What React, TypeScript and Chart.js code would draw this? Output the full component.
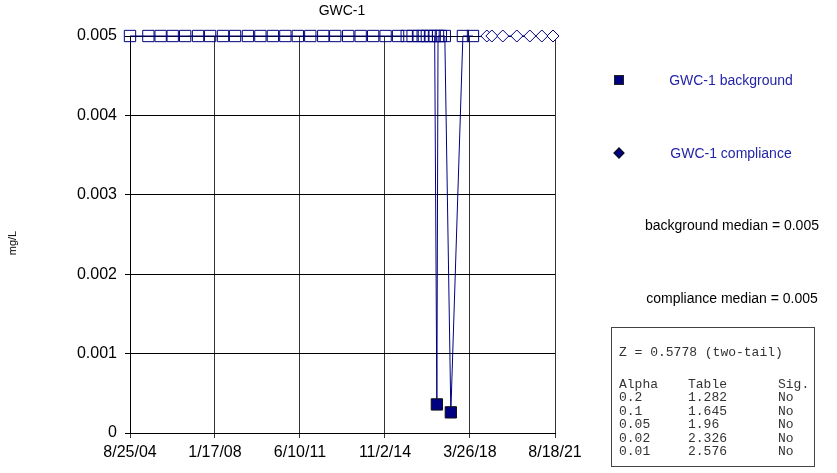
import React, { useEffect, useRef } from "react";
import { Chart, registerables } from "chart.js";

Chart.register(...registerables);

// ---------- data ----------
const chartTitle = "GWC-1";
const yAxisLabel = "mg/L";

const backgroundDates = [
  "2004-08-25",
  "2005-05-20", "2005-11-15", "2006-05-10", "2006-11-08", "2007-05-15", "2007-11-07",
  "2008-05-13", "2008-11-05", "2009-05-12", "2009-11-10", "2010-05-11", "2010-11-09",
  "2011-05-10", "2011-11-08", "2012-05-15", "2012-11-06", "2013-05-14", "2013-11-12",
  "2014-05-13", "2014-11-11", "2015-05-12", "2015-09-15",
  "2015-12-10", "2016-03-08", "2016-05-05", "2016-07-05", "2016-08-30", "2016-10-27",
  "2016-11-28", "2016-12-15", "2017-01-26", "2017-03-24", "2017-06-20",
  "2017-12-13", "2018-05-09",
];
const backgroundValues = [
  0.005,
  0.005, 0.005, 0.005, 0.005, 0.005, 0.005,
  0.005, 0.005, 0.005, 0.005, 0.005, 0.005,
  0.005, 0.005, 0.005, 0.005, 0.005, 0.005,
  0.005, 0.005, 0.005, 0.005,
  0.005, 0.005, 0.005, 0.005, 0.005, 0.005,
  0.00036, 0.005, 0.005, 0.005, 0.00026,
  0.005, 0.005,
];
// true = detected value (filled marker), false = non-detect (hollow marker)
const backgroundDetected = [
  false,
  false, false, false, false, false, false,
  false, false, false, false, false, false,
  false, false, false, false, false, false,
  false, false, false, false,
  false, false, false, false, false, false,
  true, false, false, false, true,
  false, false,
];

const complianceDates = [
  "2018-11-27", "2019-02-08", "2019-07-18", "2020-02-08", "2020-08-16", "2021-02-07", "2021-07-20",
];
const complianceValues = [0.005, 0.005, 0.005, 0.005, 0.005, 0.005, 0.005];

const xTickDates = ["2004-08-25", "2008-01-17", "2011-06-10", "2014-11-02", "2018-03-26", "2021-08-18"];
const yTickValues = [0, 0.001, 0.002, 0.003, 0.004, 0.005];

const legendLabels = ["GWC-1 background", "GWC-1 compliance"];
const medianLines = ["background median = 0.005", "compliance median = 0.005"];
const zLine = "Z = 0.5778 (two-tail)";
const statHeader = ["Alpha", "Table", "Sig."];
const statAlpha = ["0.2", "0.1", "0.05", "0.02", "0.01"];
const statTable = ["1.282", "1.645", "1.96", "2.326", "2.576"];
const statSig = ["No", "No", "No", "No", "No"];

// ---------- helpers ----------
const toSerial = (s: string) => {
  const [y, m, d] = s.split("-").map(Number);
  return Date.UTC(y, m - 1, d) / 86400000 + 25569;
};
const fmtSerial = (v: number) => {
  const dt = new Date((v - 25569) * 86400000);
  const yy = String(dt.getUTCFullYear() % 100).padStart(2, "0");
  return `${dt.getUTCMonth() + 1}/${dt.getUTCDate()}/${yy}`;
};

const NAVY = "#000080";
const SANS = "'Liberation Sans', Arial, sans-serif";
const MONO = "'Liberation Mono', 'Courier New', monospace";
const LEGEND_BLUE = "#2424a8";

export default function App() {
  const ref = useRef<HTMLCanvasElement | null>(null);

  useEffect(() => {
    if (!ref.current) return;
    const xTicks = xTickDates.map(toSerial);
    const bgData = backgroundDates.map((d, i) => ({ x: toSerial(d), y: backgroundValues[i] }));
    const cpData = complianceDates.map((d, i) => ({ x: toSerial(d), y: complianceValues[i] }));

    const chart = new Chart(ref.current, {
      type: "line",
      data: {
        datasets: [
          {
            label: legendLabels[0],
            data: bgData,
            borderColor: NAVY,
            borderWidth: 1,
            pointStyle: "rect",
            pointRadius: 8,
            pointBackgroundColor: backgroundDetected.map((d) => (d ? NAVY : "rgba(0,0,0,0)")),
            pointBorderColor: backgroundDetected.map((d) => (d ? "#111" : NAVY)),
            pointBorderWidth: 1,
            tension: 0,
            clip: false as any,
          },
          {
            label: legendLabels[1],
            data: cpData,
            borderColor: NAVY,
            borderWidth: 1,
            pointStyle: "rectRot",
            pointRadius: 6,
            pointBackgroundColor: "rgba(255,255,255,1)",
            pointBorderColor: NAVY,
            pointBorderWidth: 1,
            tension: 0,
            clip: false as any,
          },
        ],
      },
      options: {
        animation: false,
        responsive: false,
        layout: { padding: { top: 36, right: 282, bottom: 0, left: 0 } },
        plugins: {
          legend: { display: false },
          tooltip: { enabled: false },
          title: { display: false },
        },
        scales: {
          x: {
            type: "linear",
            min: xTicks[0],
            max: xTicks[xTicks.length - 1],
            afterBuildTicks: (s: any) => {
              s.ticks = xTicks.map((v) => ({ value: v }));
            },
            afterFit: (s: any) => {
              s.height = 40;
            },
            ticks: {
              callback: (v: any) => fmtSerial(Number(v)),
              color: "#000",
              font: { family: SANS, size: 16 },
              maxRotation: 0,
              autoSkip: false,
              padding: 5,
            },
            grid: { color: "#333", lineWidth: 1, tickLength: 5, drawTicks: true },
            border: { color: "#000", width: 1 },
          },
          y: {
            min: 0,
            max: 0.005,
            afterBuildTicks: (s: any) => {
              s.ticks = yTickValues.map((v) => ({ value: v }));
            },
            afterFit: (s: any) => {
              s.width = 130;
            },
            ticks: {
              callback: (v: any) => (Number(v) === 0 ? "0" : Number(v).toFixed(3)),
              color: "#000",
              font: { family: SANS, size: 16 },
              padding: 8,
            },
            grid: { color: "#000", lineWidth: 1, tickLength: 5, drawTicks: true },
            border: { color: "#000", width: 1 },
          },
        },
      },
    });
    return () => chart.destroy();
  }, []);

  const centered = (text: string, cx: number, cy: number, color: string, size: number) => (
    <div
      style={{
        position: "absolute",
        left: cx - 150,
        width: 300,
        top: cy - size * 0.6,
        lineHeight: `${size * 1.2}px`,
        textAlign: "center",
        fontFamily: SANS,
        fontSize: size,
        color,
        whiteSpace: "nowrap",
      }}
    >
      {text}
    </div>
  );

  const monoText = (text: string, x: number, cy: number) => (
    <div
      key={`${text}-${x}-${cy}`}
      style={{
        position: "absolute",
        left: x,
        top: cy - 7,
        lineHeight: "14px",
        fontFamily: MONO,
        fontSize: 13,
        color: "#333",
        whiteSpace: "pre",
      }}
    >
      {text}
    </div>
  );

  const rowY0 = 398;
  const rowStep = 13.5;

  return (
    <div
      style={{
        position: "fixed",
        left: 0,
        top: 0,
        width: 837,
        height: 473,
        background: "#fff",
        overflow: "hidden",
      }}
    >
      <canvas ref={ref} width={837} height={473} style={{ position: "absolute", left: 0, top: 0 }} />
      {centered(chartTitle, 342, 10, "#000", 14)}
      <div
        style={{
          position: "absolute",
          left: 12 - 30,
          top: 243 - 7,
          width: 60,
          lineHeight: "14px",
          textAlign: "center",
          fontFamily: SANS,
          fontSize: 11,
          color: "#000",
          transform: "rotate(-90deg)",
        }}
      >
        {yAxisLabel}
      </div>

      {/* legend */}
      <div
        style={{
          position: "absolute",
          left: 614,
          top: 75,
          width: 10,
          height: 10,
          boxSizing: "border-box",
          background: NAVY,
          border: "1px solid #222",
        }}
      />
      {centered(legendLabels[0], 731, 80, LEGEND_BLUE, 14)}
      <div
        style={{
          position: "absolute",
          left: 615,
          top: 149,
          width: 8,
          height: 8,
          boxSizing: "border-box",
          background: NAVY,
          border: "1px solid #111",
          transform: "rotate(45deg)",
        }}
      />
      {centered(legendLabels[1], 731, 153, LEGEND_BLUE, 14)}
      {centered(medianLines[0], 732, 225, "#000", 14)}
      {centered(medianLines[1], 732, 298, "#000", 14)}

      {/* stats box */}
      <div
        style={{
          position: "absolute",
          left: 611,
          top: 327,
          width: 204,
          height: 140,
          boxSizing: "border-box",
          border: "1px solid #444",
        }}
      />
      {monoText(zLine, 619, 353)}
      {monoText(statHeader[0], 619, rowY0 - rowStep)}
      {monoText(statHeader[1], 688, rowY0 - rowStep)}
      {monoText(statHeader[2], 778, rowY0 - rowStep)}
      {statAlpha.map((a, i) => monoText(a, 619, rowY0 + i * rowStep))}
      {statTable.map((t, i) => monoText(t, 688, rowY0 + i * rowStep))}
      {statSig.map((s, i) => monoText(s, 778, rowY0 + i * rowStep))}
    </div>
  );
}
